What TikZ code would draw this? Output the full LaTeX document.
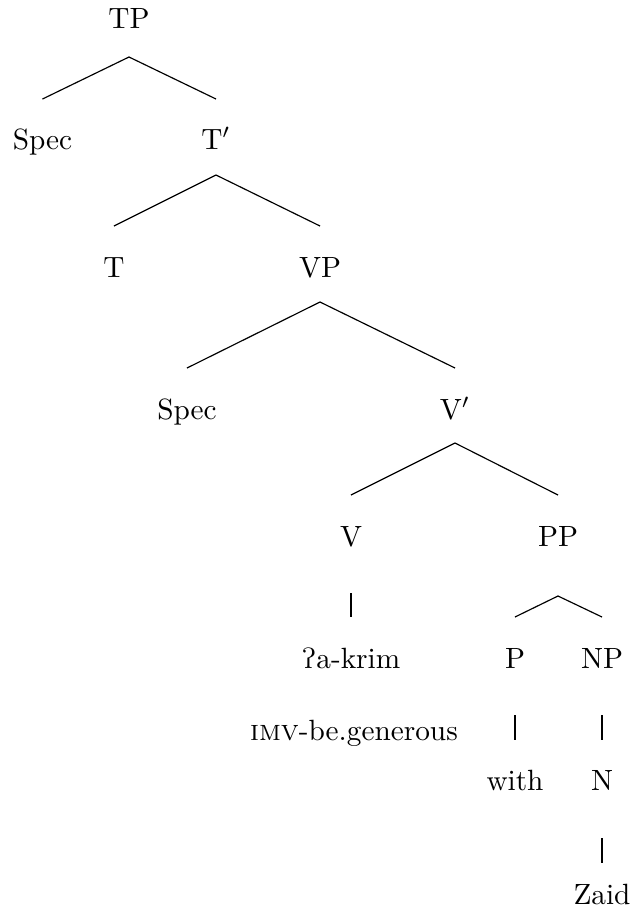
\documentclass[tikz,border=0pt]{standalone}
\usepackage{tipa}
\usetikzlibrary{calc}

\tikzset{lbl/.style={anchor=base, inner sep=0pt}}

\begin{document}
\begin{tikzpicture}[x=0.3413pt, y=-0.3413pt]
      \useasboundingbox (0,0) rectangle (632,920);

      \node[lbl] (tp) at (129,28) {TP};
      \node[lbl] (spec1) at (42.5,149) {Spec};
      \node[lbl] (tbar) at (216,149) {T$'$};
      \node[lbl] (t) at (114,277) {T};
      \node[lbl] (vp) at (320,277) {VP};
      \node[lbl] (spec2) at (187,419) {Spec};
      \node[lbl] (vbar) at (455,419) {V$'$};
      \node[lbl] (v) at (351,546) {V};
      \node[lbl] (pp) at (558,546) {PP};
      \node[lbl] (verb) at (351,668) {\textglotstop a-krim};
      \node[lbl] (gloss) at (354,740) {\textsc{imv}-be.generous};
      \node[lbl] (p) at (515,668) {P};
      \node[lbl] (np) at (602,668) {NP};
      \node[lbl] (with) at (515,790) {with};
      \node[lbl] (n) at (602,790) {N};
      \node[lbl] (zaid) at (602,904) {Zaid};

      \draw ($(tp.base)+(0,29)$) -- ($(spec1.base)+(0,-50)$);
      \draw ($(tp.base)+(0,29)$) -- ($(tbar.base)+(0,-50)$);
      \draw ($(tbar.base)+(0,26)$) -- ($(t.base)+(0,-51)$);
      \draw ($(tbar.base)+(0,26)$) -- ($(vp.base)+(0,-51)$);
      \draw ($(vp.base)+(0,25)$) -- ($(spec2.base)+(0,-51)$);
      \draw ($(vp.base)+(0,25)$) -- ($(vbar.base)+(0,-51)$);
      \draw ($(vbar.base)+(0,24)$) -- ($(v.base)+(0,-51)$);
      \draw ($(vbar.base)+(0,24)$) -- ($(pp.base)+(0,-51)$);
      \draw ($(v.base)+(0,47)$) -- ($(verb.base)+(0,-51)$);
      \draw ($(pp.base)+(0,50)$) -- ($(p.base)+(0,-51)$);
      \draw ($(pp.base)+(0,50)$) -- ($(np.base)+(0,-51)$);
      \draw ($(p.base)+(0,47)$) -- ($(with.base)+(0,-50)$);
      \draw ($(np.base)+(0,47)$) -- ($(n.base)+(0,-50)$);
      \draw ($(n.base)+(0,48)$) -- ($(zaid.base)+(0,-41)$);
\end{tikzpicture}
\end{document}
